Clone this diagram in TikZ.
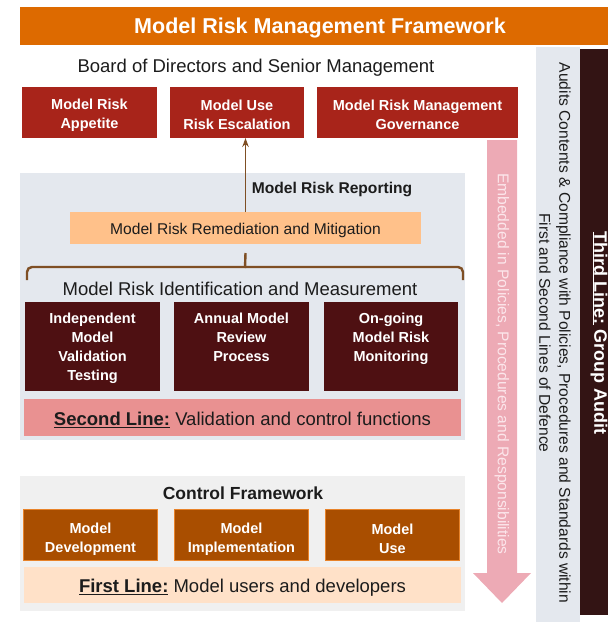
\documentclass[tikz,border=0pt]{standalone}
\usepackage{fontspec}
\setmainfont{Liberation Sans}
\usetikzlibrary{arrows.meta,calc}

\definecolor{titleorange}{HTML}{DD6A00}
\definecolor{boardred}{HTML}{A8241A}
\definecolor{panelgray}{HTML}{E4E8EE}
\definecolor{panellight}{HTML}{F0F0F0}
\definecolor{remorange}{HTML}{FFC18A}
\definecolor{darkmaroon}{HTML}{4E1012}
\definecolor{secondpink}{HTML}{E99191}
\definecolor{ctrlbrown}{HTML}{A94E00}
\definecolor{ctrlborder}{HTML}{E8832A}
\definecolor{firstpeach}{HTML}{FFE1C8}
\definecolor{arrowpink}{HTML}{EDAAB5}
\definecolor{arrowtext}{HTML}{FCE6EB}
\definecolor{auditdark}{HTML}{331414}
\definecolor{bracebrown}{HTML}{7F4F24}
\definecolor{inktext}{HTML}{1C1C1C}

\begin{document}
\begin{tikzpicture}[x=1pt,y=-1pt,
  every node/.style={inner sep=0pt, outer sep=0pt},
  panel/.style={fill=#1, minimum width=445pt},
  redbox/.style={fill=boardred, minimum height=51pt},
  darkbox/.style={fill=darkmaroon, minimum width=135pt, minimum height=89pt},
  ctrlbox/.style={fill=ctrlbrown, draw=ctrlborder, line width=0.8pt, minimum width=134pt, minimum height=51pt},
  linebar/.style={fill=#1, minimum width=437pt},
  whitetext/.style={text=white, align=center, font=\fontsize{14.5}{19}\selectfont\bfseries},
  bodytext/.style={text=inktext, align=center, font=\fontsize{15.6}{19}\selectfont},
  bigtext/.style={text=inktext, align=center, font=\fontsize{18.5}{22}\selectfont},
  headtext/.style={text=inktext, align=center, font=\fontsize{#1}{20}\selectfont\bfseries},
  lower/.style={yshift=-#1},
  reportarrow/.style={draw=bracebrown, line width=1.3pt, -{Stealth[length=9pt,width=6.5pt]}},
  bracepath/.style={draw=bracebrown, line width=2.4pt, rounded corners=5pt}]

\useasboundingbox (0,0) rectangle (608,633);
\clip (0,0) rectangle (608,633);

% title bar
\fill[titleorange] (20,7) rectangle (620,45);
\node[text=white, font=\fontsize{21.5}{24}\selectfont\bfseries, lower=2pt] (title) at (320,26) {Model Risk Management Framework};

% board level
\node[bigtext, lower=2.5pt] (board) at (256,65) {Board of Directors and Senior Management};
\node[redbox, minimum width=135pt] (appetite) at (89.5,112.5) {};
\node[redbox, minimum width=134pt] (escalation) at (237,112.5) {};
\node[redbox, minimum width=201pt] (governance) at (417.5,112.5) {};
\node[whitetext, lower=2.5pt] at (appetite) {Model Risk\\Appetite};
\node[whitetext, lower=2.5pt] at (escalation) {Model Use\\Risk Escalation};
\node[whitetext, lower=2.5pt] at (governance) {Model Risk Management\\Governance};

% second line panel
\node[panel=panelgray, minimum height=267pt] (secondpanel) at (242.5,306.5) {};
\node[headtext=15.6, lower=2pt] (reporting) at (332,187) {Model Risk Reporting};
\node[fill=remorange, minimum width=351pt, minimum height=32pt] (remedy) at (245.5,228) {};
\node[bodytext, lower=2.5pt] at (remedy) {Model Risk Remediation and Mitigation};
\draw[reportarrow] (remedy.north) -- (remedy.north |- escalation.south);

% brace over the identification block
\coordinate (braceleft) at (27,280);
\coordinate (braceright) at (463,280);
\draw[bracepath] (braceleft) |- (245,267) -| (braceright);
\draw[draw=bracebrown, line width=2.4pt] (245,268) -- (remedy.south |- 0,253);

\node[bigtext, lower=1pt] (identify) at (240,288) {Model Risk Identification and Measurement};

\node[darkbox] (independent) at (92.5,346.5) {};
\node[darkbox] (annual) at (241.5,346.5) {};
\node[darkbox, minimum width=134pt] (ongoing) at (391,346.5) {};
\node[whitetext, anchor=north] at ($(independent.north)+(0,11)$) {Independent\\Model\\Validation\\Testing};
\node[whitetext, anchor=north] at ($(annual.north)+(0,11)$) {Annual Model\\Review\\Process};
\node[whitetext, anchor=north] at ($(ongoing.north)+(0,11)$) {On-going\\Model Risk\\Monitoring};

\node[linebar=secondpink, minimum height=37pt] (secondline) at (242.5,417.5) {};
\node[bigtext, lower=2.5pt] at (secondline) {\underline{\textbf{Second Line:}} Validation and control functions};

% first line panel
\node[panel=panellight, minimum height=135pt] (firstpanel) at (242.5,543.5) {};
\node[headtext=17.5, lower=2pt] (control) at (243,491) {Control Framework};
\node[ctrlbox] (development) at (90.5,535) {};
\node[ctrlbox] (implementation) at (241.5,535) {};
\node[ctrlbox] (usage) at (392.5,535) {};
\node[whitetext, lower=4pt] at (development) {Model\\Development};
\node[whitetext, lower=4pt] at (implementation) {Model\\Implementation};
\node[whitetext, lower=4pt] at (usage) {Model\\Use};
\node[linebar=firstpeach, minimum height=36pt] (firstline) at (242.5,585) {};
\node[bigtext, lower=3pt] at (firstline) {\underline{\textbf{First Line:}} Model users and developers};

% downward arrow of embedded policies
\fill[arrowpink] (487,140) -- (517,140) -- (517,573) -- (531,573) -- (502,603)
  -- (473,573) -- (487,573) -- cycle;
\node[rotate=-90, text=arrowtext, font=\fontsize{15.6}{19}\selectfont] (embedded) at (502,364)
  {Embedded in Policies, Procedures and Responsibilities};

% third line column
\fill[panelgray] (536,47) rectangle (580,622);
\node[rotate=-90, bodytext, font=\fontsize{15.6}{20}\selectfont] (audits) at (555,333)
  {Audits Contents \& Compliance with Policies, Procedures and Standards within\\First and Second Lines of Defence};
\fill[auditdark] (580,49) rectangle (620,615);
\node[rotate=-90, text=white, font=\fontsize{18}{20}\selectfont\bfseries] (thirdline) at (599,333)
  {\underline{Third Line:} Group Audit};

\end{tikzpicture}
\end{document}
